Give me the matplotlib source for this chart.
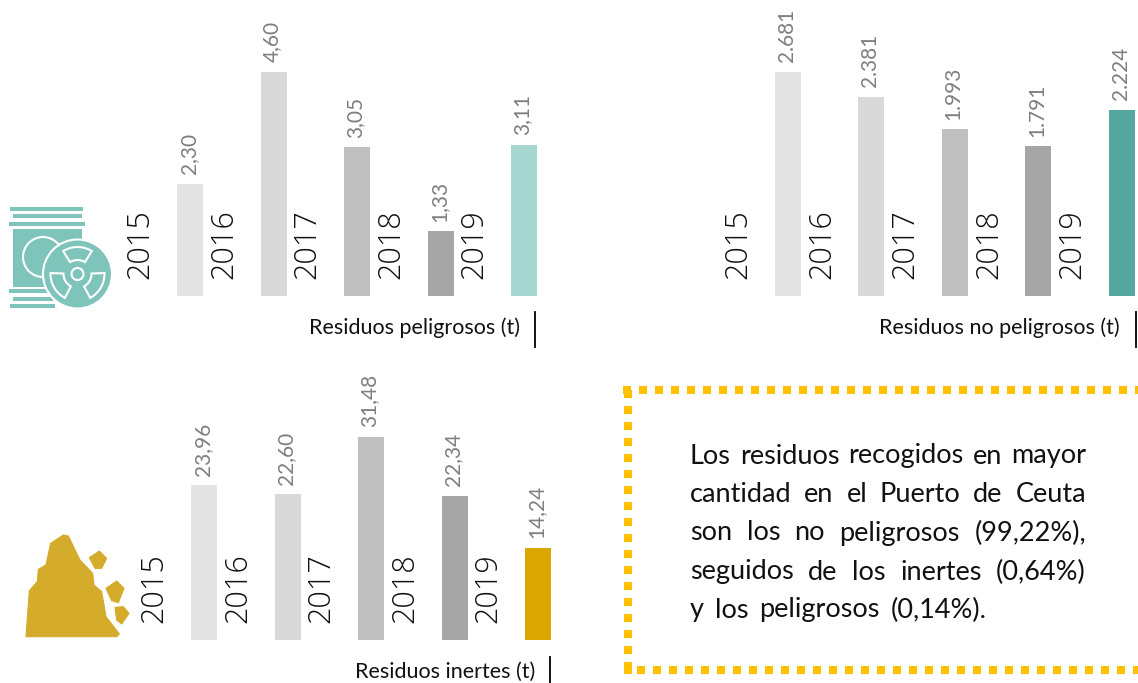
import numpy as np
import matplotlib
matplotlib.use('Agg')
import matplotlib.pyplot as plt
from matplotlib.patches import Circle, Polygon, Rectangle, Wedge

W, H = 1138, 683

years = ['2015', '2016', '2017', '2018', '2019']

pel_vals = [2.30, 4.60, 3.05, 1.33, 3.11]
pel_labels = ['2,30', '4,60', '3,05', '1,33', '3,11']
nopel_vals = [2681, 2381, 1993, 1791, 2224]
nopel_labels = ['2.681', '2.381', '1.993', '1.791', '2.224']
ine_vals = [23.96, 22.60, 31.48, 22.34, 14.24]
ine_labels = ['23,96', '22,60', '31,48', '22,34', '14,24']

greys = ['#E3E3E3', '#D9D9D9', '#BFBFBF', '#A6A6A6']

box_lines = ['Los residuos recogidos en mayor',
             'cantidad en el Puerto de Ceuta',
             'son los no peligrosos (99,22%),',
             'seguidos de los inertes (0,64%)',
             'y los peligrosos (0,14%).']

STEP = 83.5


def bar_panel(x0, base, ymax, top, vals, labels, last_color, title, title_x, line_x, title_y, line_y):
    # axes in pixel position, one category = STEP px wide
    left = x0 - STEP/2
    ax = fig.add_axes([left/W, 1 - base/H, 5*STEP/W, (base - top)/H])
    ax.set_xlim(-0.5, 4.5)
    ax.set_ylim(0, ymax)
    ax.axis('off')
    ax.bar(range(5), vals, width=26/STEP, color=greys + [last_color])
    for i in range(5):
        ax.annotate(labels[i], (i, vals[i]), xytext=(-1, 7), textcoords='offset points',
                    rotation=90, ha='center', va='bottom', fontsize=15, color='#7F7F7F',
                    family='Lato', annotation_clip=False)
        ax.annotate(years[i], (i, 0), xytext=(-35.5, 12), textcoords='offset points',
                    rotation=90, ha='center', va='bottom', fontsize=22, color='#111111',
                    family='Open Sans', weight='light', annotation_clip=False)
    bg.text(title_x, title_y, title, ha='right', va='center', fontsize=15.5, color='#111111', family='Lato')
    bg.plot([line_x, line_x], line_y, color='black', lw=1.3)


def justified(y, text, x0, x1, last=False):
    r = fig.canvas.get_renderer()
    words = text.split()
    items = [bg.text(0, y, w, fontsize=19.5, color='#111111', family='Lato', va='center') for w in words]
    inv = bg.transData.inverted()
    widths = []
    for t in items:
        e = t.get_window_extent(r)
        widths.append(inv.transform((e.x1, 0))[0] - inv.transform((e.x0, 0))[0])
    gap = 11 if last else (x1 - x0 - sum(widths)) / (len(words) - 1)
    x = x0
    for t, w in zip(items, widths):
        t.set_x(x)
        x += w + gap


fig = plt.figure(figsize=(W/100, H/100), dpi=100)

# overlay in image pixels for the icons, text box and captions
bg = fig.add_axes([0, 0, 1, 1])
bg.set_xlim(0, W)
bg.set_ylim(H, 0)
bg.axis('off')

bar_panel(190, 296, 4.60, 72, pel_vals, pel_labels, '#A7D5CF', 'Residuos peligrosos (t)', 520, 535, 328, (312, 347))
bar_panel(788, 296, 2681, 72, nopel_vals, nopel_labels, '#55A89F', 'Residuos no peligrosos (t)', 1120, 1136, 328, (312, 347))
bar_panel(204, 640, 31.48, 437, ine_vals, ine_labels, '#D9A700', 'Residuos inertes (t)', 535, 550, 672, (657, 683))

# barrel icon
teal = '#7FC4BB'
for x, y, w, h in [(10, 207, 73, 4), (13, 214, 69, 4), (9, 222, 76, 4), (13, 229, 69, 58),
                   (9, 289, 45, 4), (13, 297, 40, 4), (10, 304, 45, 4)]:
    bg.add_patch(Rectangle((x, y), w, h, fc=teal, ec='none'))
bg.add_patch(Circle((43, 257), 20, fc=teal, ec='white', lw=1.5))
bg.add_patch(Circle((77.5, 274), 34.5, fc=teal, ec='white', lw=1.5))
for a in [-90, 30, 150]:
    # image y runs downwards, so angles go clockwise here
    bg.add_patch(Wedge((77.5, 274), 27, a - 32, a + 32, width=13, fc=teal, ec='white', lw=1.5))
bg.add_patch(Circle((77.5, 274), 6, fc=teal, ec='white', lw=1.5))

# rock icon
gold = '#D4AB2A'
rock = [(78, 380), (88, 242), (112, 215), (115, 178), (138, 165), (152, 100), (190, 75), (205, 78),
        (240, 150), (278, 190), (282, 225), (305, 245), (318, 320), (358, 372), (350, 380)]
stones = [[(268, 143), (298, 123), (320, 145), (305, 175), (285, 175)],
          [(318, 235), (350, 213), (372, 235), (355, 278), (335, 272)],
          [(345, 292), (370, 290), (387, 310), (365, 342), (350, 330)]]
for poly in [rock] + stones:
    bg.add_patch(Polygon([(px/3, 510 + py/3) for px, py in poly], fc=gold, ec=gold, lw=0.8))

# dotted frame, open past the right edge
fw = 8 * 0.72
dots = dict(color='#FFC000', lw=fw, ls=(0, (1, 1)), dash_capstyle='butt')
bg.plot([623, 1150], [390, 390], **dots)
bg.plot([628, 628], [390, 670], **dots)
bg.plot([637, 1150], [670, 670], **dots)
bg.plot([624, 632], [670, 670], color='#FFC000', lw=fw, solid_capstyle='butt')

fig.canvas.draw()
line_ys = [456, 494, 533, 572, 610]
for k in range(5):
    justified(line_ys[k], box_lines[k], 690, 1086, last=(k == 4))

plt.savefig('out.png', dpi=100)
